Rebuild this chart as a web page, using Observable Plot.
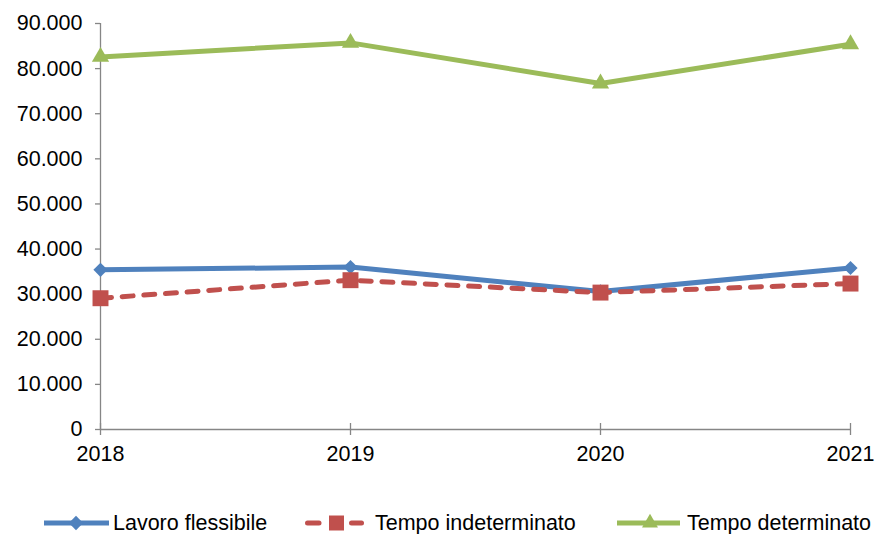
<!DOCTYPE html>
<html>
<head>
<meta charset="utf-8">
<script src="https://cdn.jsdelivr.net/npm/d3@7"></script>
<script src="https://cdn.jsdelivr.net/npm/@observablehq/plot@0.6"></script>
<style>
  html, body { margin: 0; padding: 0; background: #fff; }
  body { width: 876px; height: 534px; overflow: hidden; font-family: "Liberation Sans", Arial, sans-serif; }
  #legend { position: relative; width: 876px; height: 54px; font-size: 21.5px; color: #000; }
  #legend .sw { position: absolute; top: 33px; }
  #legend .lab { position: absolute; top: 31px; height: 24px; line-height: 24px; white-space: nowrap; }
</style>
</head>
<body>
<div id="chart"></div>
<div id="legend"></div>
<script>
const years = [2018, 2019, 2020, 2021];
const seriesNames = ["Lavoro flessibile", "Tempo indeterminato", "Tempo determinato"];
const lavoroFlessibile = [35400, 36000, 30600, 35800];
const tempoIndeterminato = [29100, 33100, 30350, 32350];
const tempoDeterminato = [82600, 85700, 76700, 85400];
const yTicks = [0, 10000, 20000, 30000, 40000, 50000, 60000, 70000, 80000, 90000];
const colors = ["#4F81BD", "#C0504D", "#9BBB59"];

const rows = (vals) => years.map((year, i) => ({year, value: vals[i]}));
const flex = rows(lavoroFlessibile);
const indet = rows(tempoIndeterminato);
const det = rows(tempoDeterminato);

const fmt = d3.formatLocale({decimal: ",", thousands: ".", grouping: [3], currency: ["", "€"]}).format(",d");
const axisGray = "#868686";

const chart = Plot.plot({
  width: 876,
  height: 480,
  marginLeft: 100,
  marginRight: 26,
  marginTop: 23,
  marginBottom: 51,
  style: {fontFamily: "'Liberation Sans', Arial, sans-serif", fontSize: "21.5px", color: "#000", background: "#fff"},
  x: {type: "linear", domain: [2018, 2021]},
  y: {domain: [0, 90000]},
  marks: [
    Plot.ruleX([2018], {y1: 0, y2: 90000, stroke: axisGray, strokeWidth: 1.3}),
    Plot.ruleY([0], {x1: 2018, x2: 2021, stroke: axisGray, strokeWidth: 1.3}),
    Plot.ruleX(years, {x: d => d, y1: 0, y2: 0, insetTop: -6, insetBottom: -6, stroke: axisGray, strokeWidth: 1.3}),
    Plot.axisY({ticks: yTicks, tickSize: 5, tickPadding: 13, tickFormat: fmt, fontSize: 21.5, stroke: axisGray, fill: "#000", strokeWidth: 1.3, label: null}),
    Plot.axisX({ticks: years, tickFormat: d => String(d), tickSize: 0, tickPadding: 16, fontSize: 21.5, fill: "#000", label: null}),
    Plot.line(flex, {x: "year", y: "value", stroke: colors[0], strokeWidth: 5, strokeLinejoin: "round"}),
    Plot.dot(flex, {x: "year", y: "value", symbol: d3.symbolDiamond2, r: 6.4, fill: colors[0], stroke: "none"}),
    Plot.line(indet, {x: "year", y: "value", stroke: colors[1], strokeWidth: 5, strokeDasharray: "11,10.7", strokeLinecap: "round"}),
    Plot.dot(indet, {x: "year", y: "value", symbol: d3.symbolSquare, r: 9, fill: colors[1], stroke: "none"}),
    Plot.line(det, {x: "year", y: "value", stroke: colors[2], strokeWidth: 5, strokeLinejoin: "round"}),
    Plot.dot(det, {x: "year", y: "value", symbol: d3.symbolTriangle, r: 6.4, fill: colors[2], stroke: "none"})
  ]
});
document.getElementById("chart").appendChild(chart);

// legend
const legend = d3.select("#legend");
const items = [
  {sw: 44, lab: 113, w: 65, mk: 32},
  {sw: 304, lab: 375, w: 62, mk: 32.5},
  {sw: 617, lab: 687, w: 63, mk: 33}
];
items.forEach((it, i) => {
  const svg = legend.append("svg").attr("class", "sw").style("left", it.sw + "px")
    .attr("width", it.w).attr("height", 20);
  if (i === 1) {
    svg.append("line").attr("x1", 3.5).attr("x2", 15).attr("y1", 10).attr("y2", 10)
      .attr("stroke", colors[i]).attr("stroke-width", 5).attr("stroke-linecap", "round");
    svg.append("line").attr("x1", 47.5).attr("x2", 57.5).attr("y1", 10).attr("y2", 10)
      .attr("stroke", colors[i]).attr("stroke-width", 5).attr("stroke-linecap", "round");
  } else {
    svg.append("line").attr("x1", 0).attr("x2", it.w).attr("y1", 10).attr("y2", 10)
      .attr("stroke", colors[i]).attr("stroke-width", 5).attr("stroke-linecap", "round");
  }
  const sym = [d3.symbolDiamond2, d3.symbolSquare, d3.symbolTriangle][i];
  const size = [130, 225, 110][i];
  svg.append("path").attr("transform", `translate(${it.mk},10)`)
    .attr("d", d3.symbol(sym, size)()).attr("fill", colors[i]);
  legend.append("div").attr("class", "lab").style("left", it.lab + "px").text(seriesNames[i]);
});
</script>
</body>
</html>
